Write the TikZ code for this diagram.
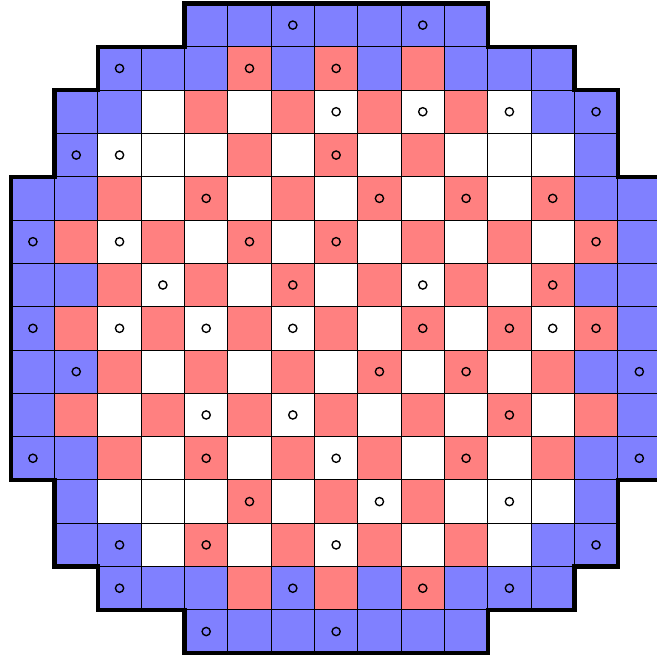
\documentclass[tikz,border=0pt]{standalone}
\definecolor{fuelblue}{HTML}{8080FF}
\definecolor{fuelred}{HTML}{FF8080}
\begin{document}
\begin{tikzpicture}[
    cell/.style={rectangle, draw, line width=0.6pt, minimum size=1cm, inner sep=0pt, outer sep=0pt},
    pin/.style={path picture={\draw[line width=0.9pt] (path picture bounding box.center) circle (0.095);}},
    cell-b/.style={cell, fill=fuelblue},
    cell-r/.style={cell, fill=fuelred},
    cell-w/.style={cell, fill=white},
    cell-bo/.style={cell-b, pin},
    cell-ro/.style={cell-r, pin},
    cell-wo/.style={cell-w, pin},
    cell-x/.style={draw=none, minimum size=1cm},
    outline/.style={line width=2.8pt, line join=miter}
]
    \useasboundingbox (-0.26,-0.18) rectangle (14.9,15.08);

    % Cells
    \foreach \cells [count=\r from 0] in {
        {x,x,x,x,b,b,bo,b,b,bo,b,x,x,x,x},
        {x,x,bo,b,b,ro,b,ro,b,r,b,b,b,x,x},
        {x,b,b,w,r,w,r,wo,r,wo,r,wo,b,bo,x},
        {x,bo,wo,w,w,r,w,ro,w,r,w,w,w,b,x},
        {b,b,r,w,ro,w,r,w,ro,w,ro,w,ro,b,b},
        {bo,r,wo,r,w,ro,w,ro,w,r,w,r,w,ro,b},
        {b,b,r,wo,r,w,ro,w,r,wo,r,w,ro,b,b},
        {bo,r,wo,r,wo,r,wo,r,w,ro,w,ro,wo,ro,b},
        {b,bo,r,w,r,w,r,w,ro,w,ro,w,r,b,bo},
        {b,r,w,r,wo,r,wo,r,w,r,w,ro,w,r,b},
        {bo,b,r,w,ro,w,r,wo,r,w,ro,w,r,b,bo},
        {x,b,w,w,w,ro,w,r,wo,r,w,wo,w,b,x},
        {x,b,bo,w,ro,w,r,wo,r,w,r,w,b,bo,x},
        {x,x,bo,b,b,r,bo,r,b,ro,b,bo,b,x,x},
        {x,x,x,x,bo,b,b,bo,b,b,b,x,x,x,x}}{
        \foreach \t [count=\c from 0] in \cells
            \node[cell-\t] (c-\r-\c) at (\c+0.5, 14.5-\r) {};
    }

    % Core outline
    \draw[outline] (4,15) -- (11,15) -- (11,14) -- (13,14) -- (13,13) -- (14,13)
        -- (14,11) -- (15,11) -- (15,4) -- (14,4) -- (14,2) -- (13,2) -- (13,1)
        -- (11,1) -- (11,0) -- (4,0) -- (4,1) -- (2,1) -- (2,2) -- (1,2) -- (1,4)
        -- (0,4) -- (0,11) -- (1,11) -- (1,13) -- (2,13) -- (2,14) -- (4,14) -- cycle;
\end{tikzpicture}
\end{document}
